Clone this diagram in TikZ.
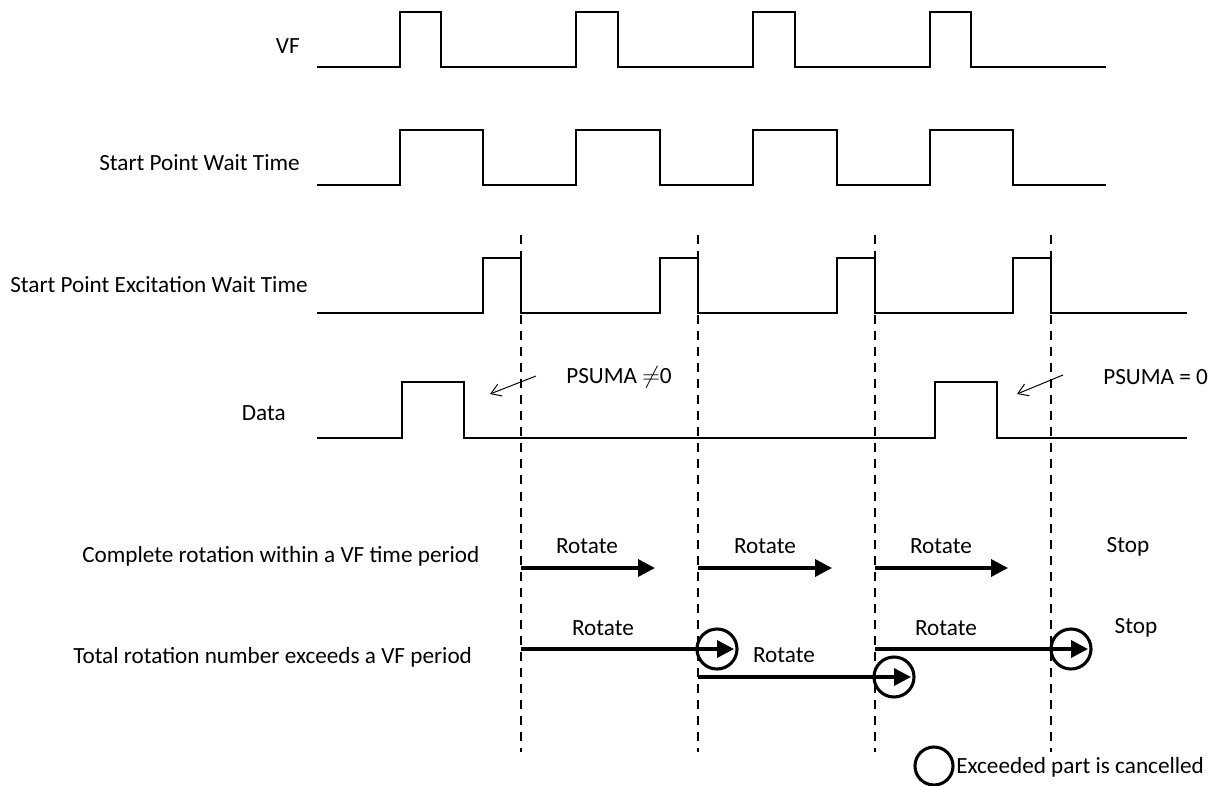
\documentclass[tikz,border=0pt]{standalone}
\usepackage{fontspec}
\setmainfont{Carlito}
\usetikzlibrary{arrows.meta}
\begin{document}
\begin{tikzpicture}[x=0.025cm,y=-0.025cm,
  sig/.style={line width=1.5pt, line join=miter},
  guide/.style={line width=0.8pt, dash pattern=on 6.4pt off 5pt},
  lbl/.style={font=\fontsize{16.5}{19}\selectfont, inner sep=0pt},
  rot/.style={line width=2.5pt, -{Triangle[length=12pt,width=12pt]}},
  cancel/.style={circle, draw, line width=2.2pt, minimum size=1cm, inner sep=0pt},
  hint/.style={line width=0.7pt, -{Straight Barb[length=7pt,width=9pt]}}
]
\useasboundingbox (0,0) rectangle (1219,785);

% labels
\node[lbl, anchor=east] (lvf) at (300,46) {VF};
\node[lbl, anchor=east] (lsw) at (300,163) {Start Point Wait Time};
\node[lbl, anchor=east] (lex) at (308,285) {Start Point Excitation Wait Time};
\node[lbl, anchor=east] (ldata) at (286,413) {Data};
\node[lbl, anchor=west] (lrot1) at (82,556) {Complete rotation within a VF time period};
\node[lbl, anchor=west] (lrot2) at (73,657) {Total rotation number exceeds a VF period};

% waveforms
\draw[sig] (317,67) -- (400,67) -- (400,12) -- (441,12) -- (441,67) -- (576,67) -- (576,12) -- (618,12) -- (618,67)
  -- (753,67) -- (753,12) -- (795,12) -- (795,67) -- (930,67) -- (930,12) -- (971,12) -- (971,67) -- (1106,67);
\draw[sig] (317,185) -- (400,185) -- (400,130) -- (483,130) -- (483,185) -- (576,185) -- (576,130) -- (660,130) -- (660,185)
  -- (753,185) -- (753,130) -- (837,130) -- (837,185) -- (930,185) -- (930,130) -- (1013,130) -- (1013,185) -- (1106,185);
\draw[sig] (317,313) -- (483,313) -- (483,258) -- (521,258) -- (521,313) -- (660,313) -- (660,258) -- (698,258) -- (698,313)
  -- (837,313) -- (837,258) -- (875,258) -- (875,313) -- (1013,313) -- (1013,258) -- (1051,258) -- (1051,313) -- (1187,313);
\draw[sig] (317,438) -- (402,438) -- (402,382) -- (464,382) -- (464,438) -- (935,438) -- (935,382) -- (997,382) -- (997,438) -- (1187,438);

% guide lines
\foreach \x in {521,698,875,1051}
  \draw[guide] (\x,235) -- (\x,752);

% PSUMA hints
\coordinate (h1s) at (536,376);
\coordinate (h1e) at (490,394);
\coordinate (h2s) at (1063,375);
\coordinate (h2e) at (1017,394);
\draw[hint] (h1s) -- (h1e);
\draw[hint] (h2s) -- (h2e);
\node[lbl, anchor=west] (p1) at (566,377) {PSUMA \ensuremath{\neq}0};
\node[lbl, anchor=west] (p2) at (1103,377) {PSUMA = 0};

% row 1 arrows
\coordinate (a1s) at (521,568); \coordinate (a1e) at (655,568);
\coordinate (a2s) at (698,568); \coordinate (a2e) at (832,568);
\coordinate (a3s) at (875,568); \coordinate (a3e) at (1008,568);
\draw[rot] (a1s) -- (a1e);
\draw[rot] (a2s) -- (a2e);
\draw[rot] (a3s) -- (a3e);
\node[lbl] (r1) at (587,546) {Rotate};
\node[lbl] (r2) at (765,546) {Rotate};
\node[lbl] (r3) at (941,546) {Rotate};
\node[lbl] (s1) at (1128,547) {Stop};

% row 2 arrows
\node[cancel] (c1) at (717,649) {};
\node[cancel] (c2) at (894,677) {};
\node[cancel] (c3) at (1071,649) {};
\coordinate (b1s) at (521,649); \coordinate (b1e) at (734,649);
\coordinate (b2s) at (698,677); \coordinate (b2e) at (911,677);
\coordinate (b3s) at (875,649); \coordinate (b3e) at (1088,649);
\draw[rot] (b1s) -- (b1e);
\draw[rot] (b2s) -- (b2e);
\draw[rot] (b3s) -- (b3e);
\node[lbl] (q1) at (603,628) {Rotate};
\node[lbl] (q2) at (784,655) {Rotate};
\node[lbl] (q3) at (946,628) {Rotate};
\node[lbl] (s2) at (1136,628) {Stop};

% legend
\node[cancel, minimum size=0.95cm] (lc) at (934,766) {};
\node[lbl, anchor=west] (lt) at (956,767) {Exceeded part is cancelled};
\end{tikzpicture}
\end{document}
